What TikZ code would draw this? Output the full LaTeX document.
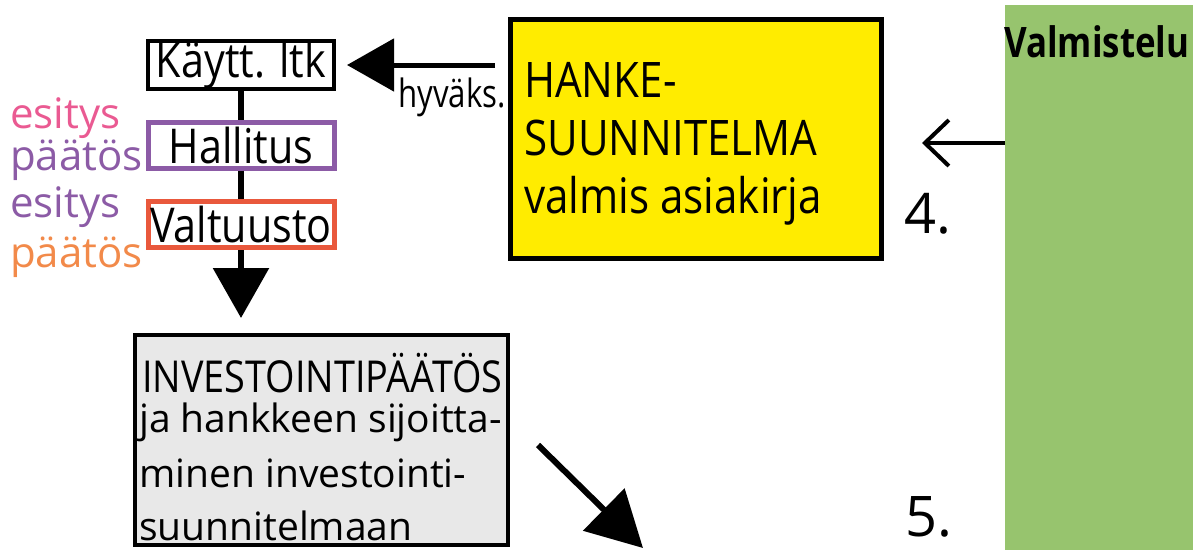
\documentclass[tikz,border=0pt]{standalone}
\usepackage{fontspec}
\setmainfont{Open Sans}
\newfontfamily\condfont[FakeStretch=0.86]{Open Sans}
\usetikzlibrary{positioning,arrows.meta}
\definecolor{esitpink}{HTML}{EA5A92}
\definecolor{paatpurple}{HTML}{8C5BA6}
\definecolor{paatorange}{HTML}{F28A4A}
\definecolor{valtred}{HTML}{E9583C}
\definecolor{hankeyellow}{HTML}{FFEC00}
\definecolor{valmgreen}{HTML}{97C46E}
\definecolor{invgray}{HTML}{E8E8E8}

\begin{document}
\begin{tikzpicture}[x=1pt,y=-1pt,
			box/.style={draw,rectangle,line width=4pt,minimum width=186pt,minimum height=46pt,inner sep=0pt,
				font=\condfont\fontsize{48}{48}\selectfont},
			txt/.style={anchor=base west,inner sep=0pt,font=\fontsize{#1}{#1}\selectfont},
			txt/.default=42,
			ctxt/.style={anchor=base west,inner sep=0pt,font=\condfont\fontsize{#1}{#1}\selectfont},
			ctxt/.default=49,
			conn/.style={line width=6pt},
			bigtip/.style={-{Triangle[length=#1,width=55pt]}},
			bigtip/.default=50pt]
			\useasboundingbox (0,0) rectangle (1193,549);
			\node (valm) [fill=valmgreen,anchor=north west,minimum width=200pt,minimum height=560pt] at (1005,5) {};
			\node (valmtxt) [txt=42] at (1004,57) {\scalebox{0.83}[1]{\bfseries Valmistelu}};
			\node (ltk) [box] at (241,65) {Käytt. ltk};
			\node (hall) [box,draw=paatpurple,line width=5pt] at (241,145) {Hallitus};
			\node (valt) [box,draw=valtred,line width=5pt] at (241,224.5) {Valtuusto};
			\node (es1) [txt,text=esitpink] at (10,128) {esitys};
			\node (pa1) [txt,text=paatpurple] at (10,170) {päätös};
			\node (es2) [txt,text=paatpurple] at (10,217) {esitys};
			\node (pa2) [txt,text=paatorange] at (10,267) {päätös};
			\node (hanke) [draw,line width=5pt,fill=hankeyellow,minimum width=371pt,minimum height=239pt] at (696,139) {};
			\node (h1) [ctxt] at (524,97) {HANKE-};
			\node (h2) [ctxt] at (524,155) {SUUNNITELMA};
			\node (h3) [ctxt] at (524,213) {valmis asiakirja};
			\node (hyv) [txt=39] at (398,107) {\scalebox{0.8}[1]{hyväks.}};
			\node (inv) [draw,line width=4pt,fill=invgray,minimum width=373pt,minimum height=210pt] at (321.5,440) {};
			\node (i1) [ctxt=44] at (142,392) {INVESTOINTIPÄÄTÖS};
			\node (i2) [txt=39] at (139,432) {ja hankkeen sijoitta-};
			\node (i3) [txt=39] at (139,487) {minen investointi-};
			\node (i4) [txt=39] at (139,540) {suunnitelmaan};
			\node (n4) [txt=56] at (904,233) {4.};
			\node (n5) [txt=56] at (905,536) {5.};
			\coordinate (to4) at (922,143);
			\coordinate (diagA) at (538,445);
			\coordinate (diagB) at (643,548);
			\draw[conn] (ltk) -- (hall);
			\draw[conn] (hall) -- (valt);
			\draw[conn,bigtip] (valt.south) -- ([yshift=15pt]valt.south |- inv.north);
			\draw[line width=5pt,-{Triangle[length=47pt,width=52pt]}] ([xshift=-13pt]hanke.west |- ltk.east) -- ([xshift=11pt]ltk.east);
			\draw[line width=4pt,-{Straight Barb[length=24pt,width=46pt]}] (valm.west |- to4) -- (to4);
			\draw[line width=6pt,-{Triangle[length=55pt,width=58pt]}] (diagA) -- (diagB);
		\end{tikzpicture}
\end{document}
